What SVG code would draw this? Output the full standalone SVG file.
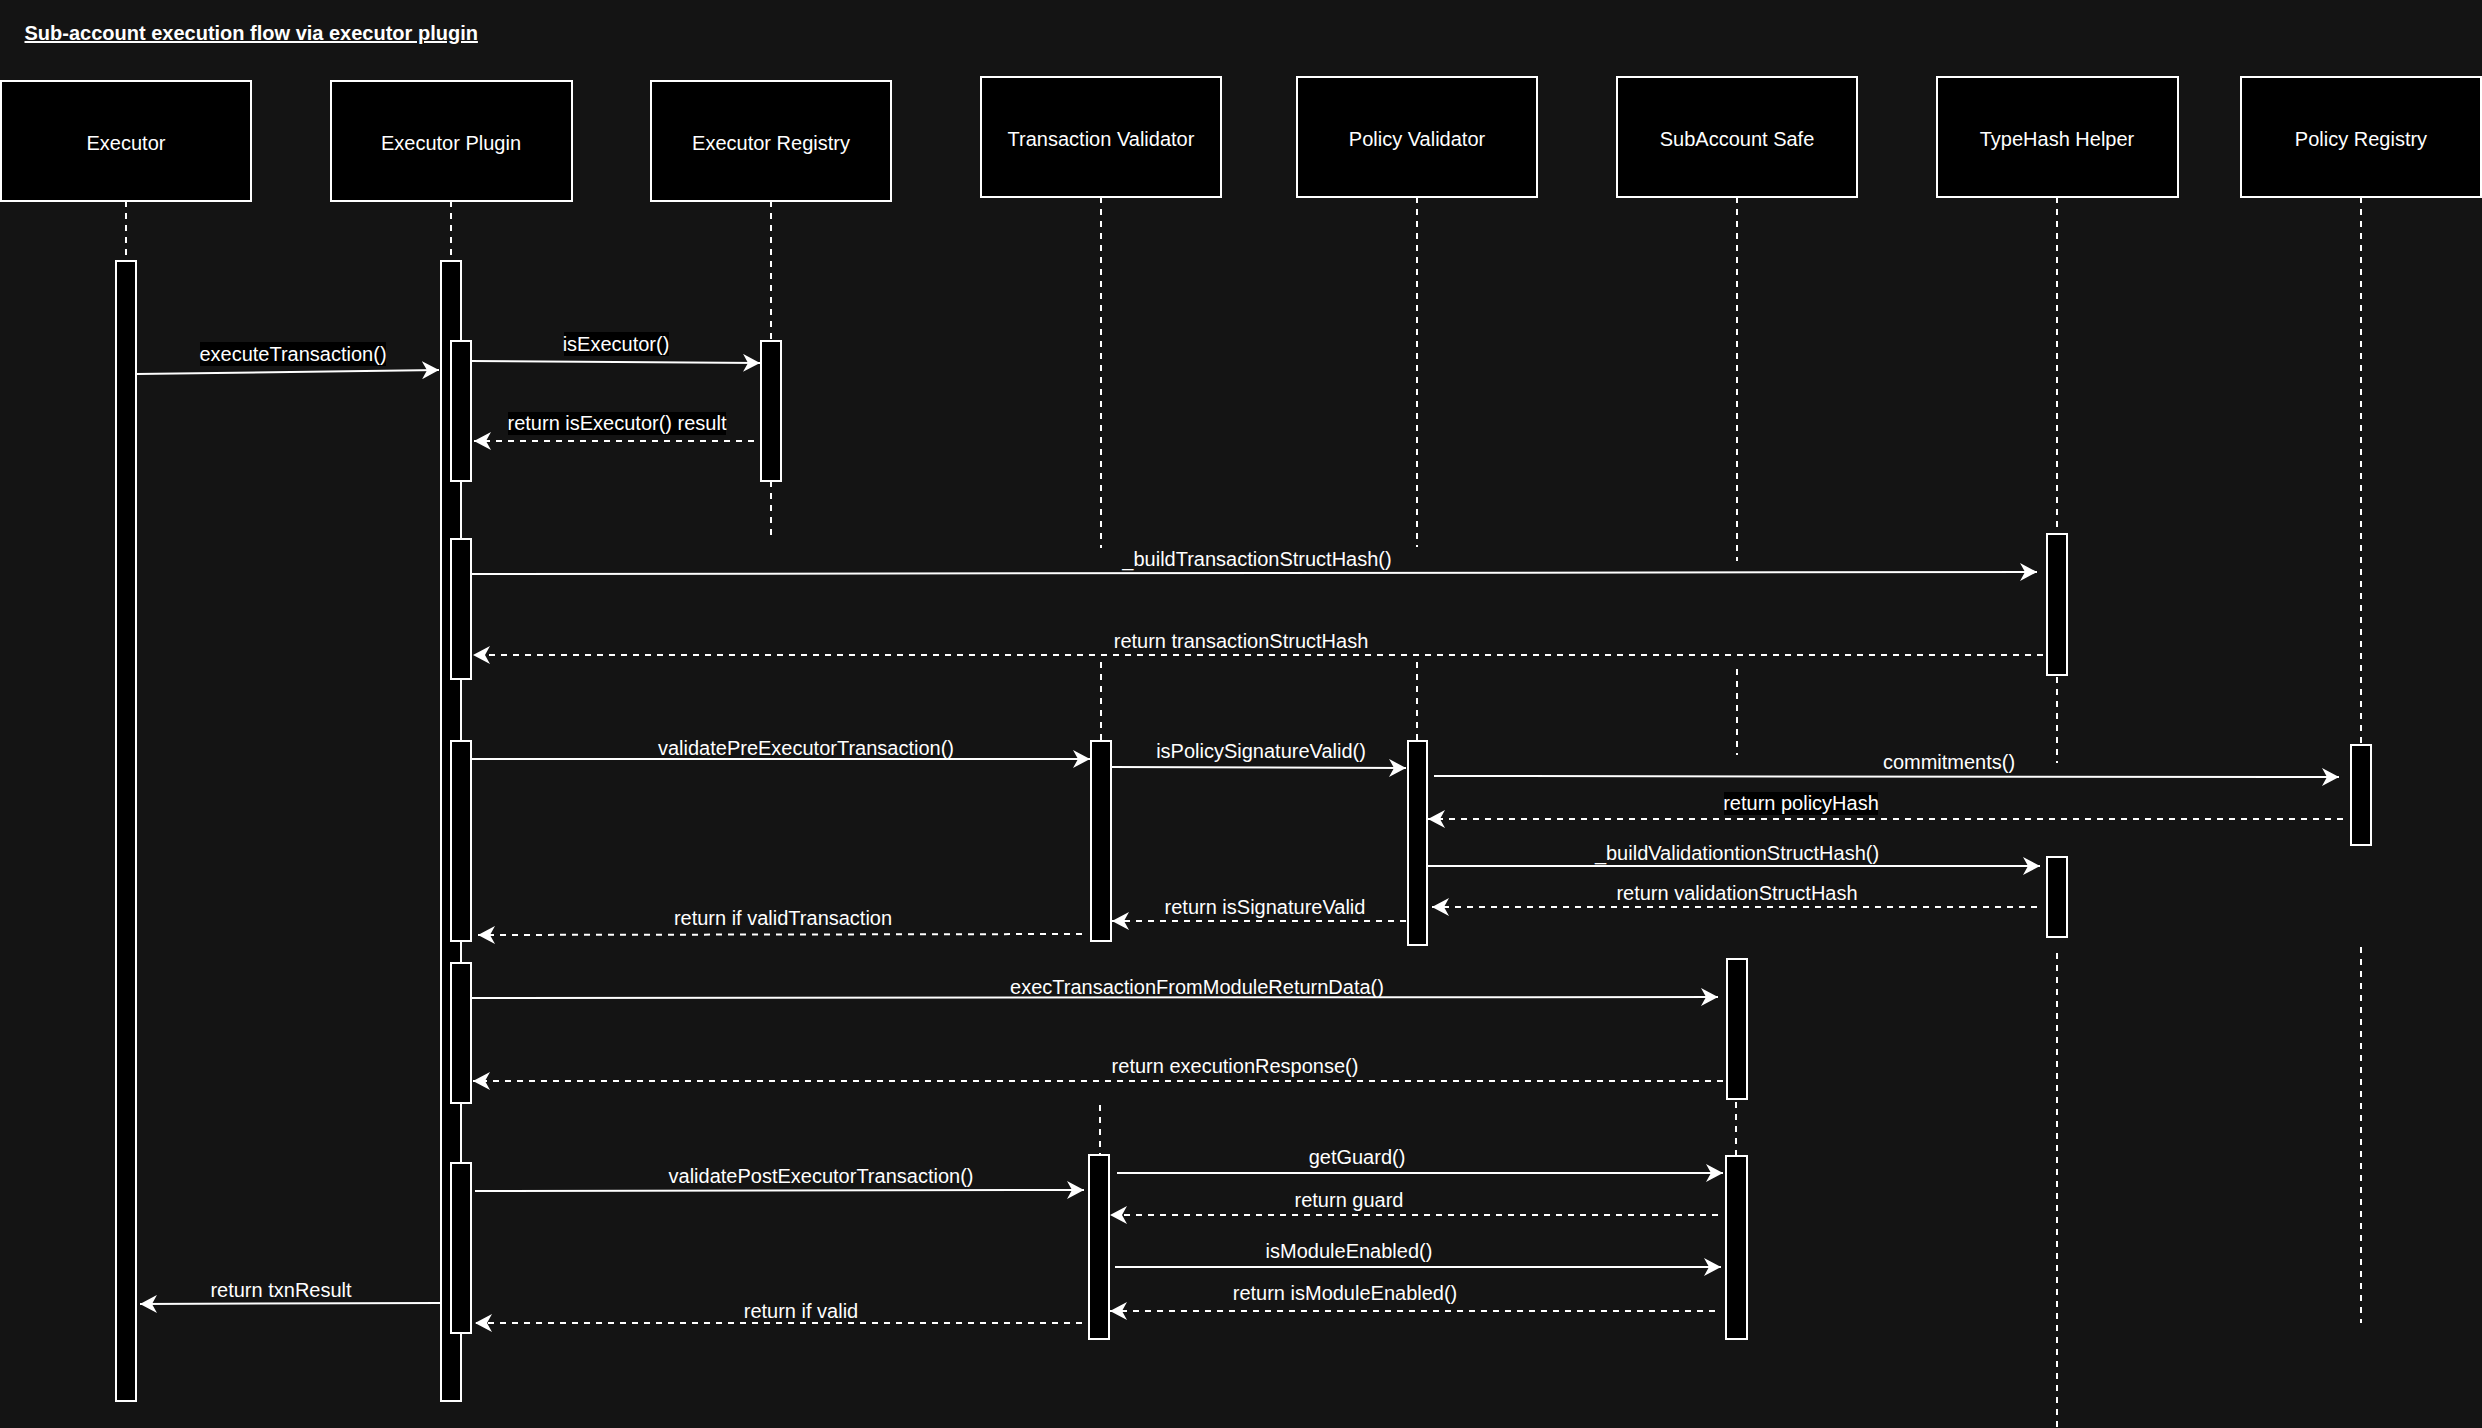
<svg xmlns="http://www.w3.org/2000/svg" width="2482" height="1428" viewBox="0 0 2482 1428">
  <style>
    .bg { fill: #141414; }
    .box { fill: #000; stroke: #fff; stroke-width: 2; }
    .bar { fill: #000; stroke: #fff; stroke-width: 2; }
    .life { stroke: #fff; stroke-width: 2; stroke-dasharray: 6 6; fill: none; }
    .name { font-family: "Liberation Sans", Arial, sans-serif; font-size: 20px; fill: #fff; text-anchor: middle; }
    .lbl { font-family: "Liberation Sans", Arial, sans-serif; font-size: 20px; fill: #fff; text-anchor: middle; }
    .lblbg { fill: #000; }
    .msg { stroke: #fff; stroke-width: 2; fill: none; marker-end: url(#ah); }
    .ret { stroke: #fff; stroke-width: 2; fill: none; stroke-dasharray: 6 6; marker-end: url(#ah); }
    .title { font-family: "Liberation Sans", Arial, sans-serif; font-size: 20px; font-weight: bold; fill: #fff; text-decoration: underline; }
  </style>
  <defs>
    <marker id="ah" markerUnits="userSpaceOnUse" markerWidth="18" markerHeight="18" refX="17" refY="9" orient="auto" viewBox="0 0 18 18">
      <path d="M0,0 L17,9 L0,18 L5,9 Z" fill="#fff"/>
    </marker>
  </defs>

  <rect class="bg" x="0" y="0" width="2482" height="1428"/>

  <text class="title" x="24.5" y="40">Sub-account execution flow via executor plugin</text>

  <!-- participants: header box, lifeline and activation bars -->
  <g id="executor">
    <rect class="box" x="1" y="81" width="250" height="120"/>
    <text class="name" x="126" y="150">Executor</text>
    <path class="life" d="M126 201 V261"/>
    <rect class="bar" x="116" y="261" width="20" height="1140"/>
  </g>

  <g id="executor-plugin">
    <rect class="box" x="331" y="81" width="241" height="120"/>
    <text class="name" x="451" y="150">Executor Plugin</text>
    <path class="life" d="M451 201 V261"/>
    <rect class="bar" x="441" y="261" width="20" height="1140"/>
    <rect class="bar" x="451" y="341" width="20" height="140"/>
    <rect class="bar" x="451" y="539" width="20" height="140"/>
    <rect class="bar" x="451" y="741" width="20" height="200"/>
    <rect class="bar" x="451" y="963" width="20" height="140"/>
    <rect class="bar" x="451" y="1163" width="20" height="170"/>
  </g>

  <g id="executor-registry">
    <rect class="box" x="651" y="81" width="240" height="120"/>
    <text class="name" x="771" y="150">Executor Registry</text>
    <path class="life" d="M771 201 V341 M771 481 V540"/>
    <rect class="bar" x="761" y="341" width="20" height="140"/>
  </g>

  <g id="transaction-validator">
    <rect class="box" x="981" y="77" width="240" height="120"/>
    <text class="name" x="1101" y="146">Transaction Validator</text>
    <rect class="bar" x="1091" y="741" width="20" height="200"/>
    <rect class="bar" x="1089" y="1155" width="20" height="184"/>
    <path class="life" d="M1101 197 V548 M1101 662 V746 M1100 1105 V1155"/>
  </g>

  <g id="policy-validator">
    <rect class="box" x="1297" y="77" width="240" height="120"/>
    <text class="name" x="1417" y="146">Policy Validator</text>
    <rect class="bar" x="1408" y="741" width="19" height="204"/>
    <path class="life" d="M1417 197 V547 M1417 662 V746"/>
  </g>

  <g id="subaccount-safe">
    <rect class="box" x="1617" y="77" width="240" height="120"/>
    <text class="name" x="1737" y="146">SubAccount Safe</text>
    <path class="life" d="M1737 197 V561 M1737 669 V755 M1736 1102 V1156"/>
    <rect class="bar" x="1727" y="959" width="20" height="140"/>
    <rect class="bar" x="1726" y="1156" width="21" height="183"/>
  </g>

  <g id="typehash-helper">
    <rect class="box" x="1937" y="77" width="241" height="120"/>
    <text class="name" x="2057" y="146">TypeHash Helper</text>
    <path class="life" d="M2057 197 V534 M2057 677 V763 M2057 953 V1428"/>
    <rect class="bar" x="2047" y="534" width="20" height="141"/>
    <rect class="bar" x="2047" y="857" width="20" height="80"/>
  </g>

  <g id="policy-registry">
    <rect class="box" x="2241" y="77" width="240" height="120"/>
    <text class="name" x="2361" y="146">Policy Registry</text>
    <path class="life" d="M2361 197 V745 M2361 947 V1323"/>
    <rect class="bar" x="2351" y="745" width="20" height="100"/>
  </g>

  <!-- messages and returns -->
  <g id="connectors">
    <path class="msg" d="M136 374 L439 370"/>
    <rect class="lblbg" x="200" y="342" width="186" height="24"/>
    <text class="lbl" x="293" y="361">executeTransaction()</text>

    <path class="msg" d="M471 361 L760 363"/>
    <rect class="lblbg" x="564" y="332" width="105" height="24"/>
    <text class="lbl" x="616" y="351">isExecutor()</text>

    <path class="ret" d="M754 441 L474 441"/>
    <rect class="lblbg" x="508" y="412" width="218" height="23"/>
    <text class="lbl" x="617" y="430">return isExecutor() result</text>

    <path class="msg" d="M471 574 L2037 572"/>
    <text class="lbl" x="1257" y="566">_buildTransactionStructHash()</text>

    <path class="ret" d="M2043 655 L473 655"/>
    <text class="lbl" x="1241" y="648">return transactionStructHash</text>

    <path class="msg" d="M471 759 L1090 759"/>
    <text class="lbl" x="806" y="755">validatePreExecutorTransaction()</text>

    <path class="msg" d="M1111 767 L1406 768"/>
    <text class="lbl" x="1261" y="758">isPolicySignatureValid()</text>

    <path class="msg" d="M1434 776 L2339 777"/>
    <text class="lbl" x="1949" y="769">commitments()</text>

    <path class="ret" d="M2343 819 L1428 819"/>
    <rect class="lblbg" x="1724" y="792" width="154" height="23"/>
    <text class="lbl" x="1801" y="810">return policyHash</text>

    <path class="msg" d="M1428 866 L2040 866"/>
    <text class="lbl" x="1737" y="860">_buildValidationtionStructHash()</text>

    <path class="ret" d="M2037 907 L1432 907"/>
    <text class="lbl" x="1737" y="900">return validationStructHash</text>

    <path class="ret" d="M1406 921 L1112 921"/>
    <text class="lbl" x="1265" y="914">return isSignatureValid</text>

    <path class="ret" d="M1082 934 L478 935"/>
    <text class="lbl" x="783" y="925">return if validTransaction</text>

    <path class="msg" d="M471 998 L1718 997"/>
    <text class="lbl" x="1197" y="994">execTransactionFromModuleReturnData()</text>

    <path class="ret" d="M1723 1081 L473 1081"/>
    <text class="lbl" x="1235" y="1073">return executionResponse()</text>

    <path class="msg" d="M475 1191 L1084 1190"/>
    <text class="lbl" x="821" y="1183">validatePostExecutorTransaction()</text>

    <path class="msg" d="M1117 1173 L1723 1173"/>
    <text class="lbl" x="1357" y="1164">getGuard()</text>

    <path class="ret" d="M1718 1215 L1110 1215"/>
    <text class="lbl" x="1349" y="1207">return guard</text>

    <path class="msg" d="M1115 1267 L1721 1267"/>
    <text class="lbl" x="1349" y="1258">isModuleEnabled()</text>

    <path class="ret" d="M1715 1311 L1110 1311"/>
    <text class="lbl" x="1345" y="1300">return isModuleEnabled()</text>

    <path class="msg" d="M441 1303 L140 1304"/>
    <text class="lbl" x="281" y="1297">return txnResult</text>

    <path class="ret" d="M1082 1323 L475 1323"/>
    <text class="lbl" x="801" y="1318">return if valid</text>
  </g>
</svg>
